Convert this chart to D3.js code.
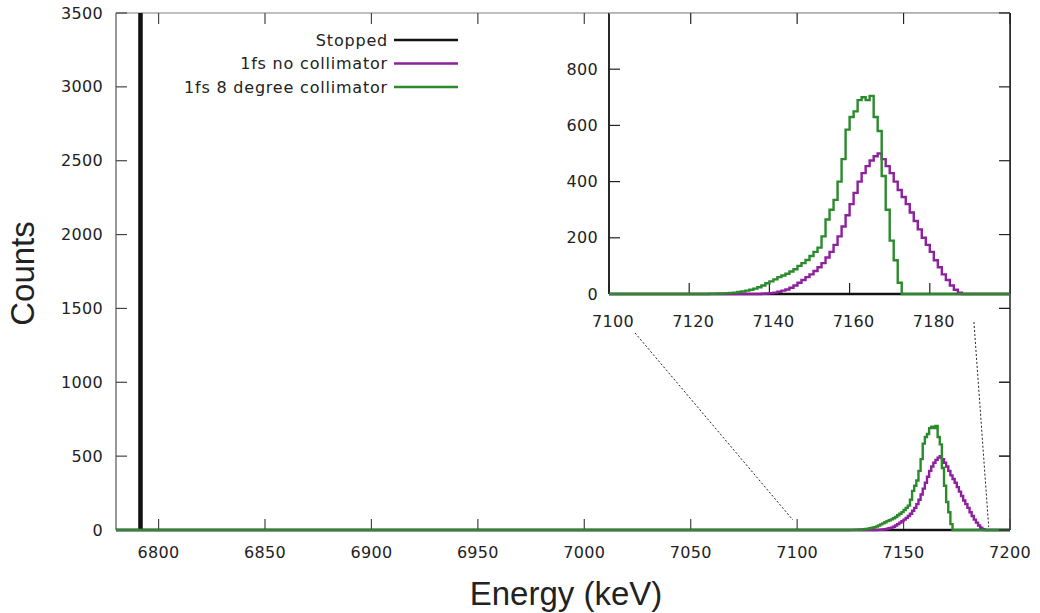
<!DOCTYPE html>
<html>
<head>
<meta charset="utf-8">
<script src="https://cdn.jsdelivr.net/npm/d3@7"></script>
<style>
  body { margin: 0; background: #fff; }
  svg text { font-family: "DejaVu Sans", sans-serif; fill: #222; }
</style>
</head>
<body>
<div id="chart"></div>
<script>
// series names, in legend order
var seriesNames = ["Stopped", "1fs no collimator", "1fs 8 degree collimator"];
var seriesColors = ["#111111", "#8e1f9e", "#2b8a2b"];

// stopped beam: one spike, runs off the top of the plot
var stoppedEnergy = [6791];
var stoppedCounts = [5200];

// 1fs no collimator, 1 keV bins
var noCollEnergy = [7138, 7139, 7140, 7141, 7142, 7143, 7144, 7145, 7146, 7147,
  7148, 7149, 7150, 7151, 7152, 7153, 7154, 7155, 7156, 7157,
  7158, 7159, 7160, 7161, 7162, 7163, 7164, 7165, 7166, 7167,
  7168, 7169, 7170, 7171, 7172, 7173, 7174, 7175, 7176, 7177,
  7178, 7179, 7180, 7181, 7182, 7183, 7184, 7185, 7186, 7187];
var noCollCounts = [1, 2, 3, 5, 8, 12, 16, 22, 30, 40,
  50, 60, 70, 82, 95, 110, 130, 150, 175, 205,
  240, 280, 320, 360, 400, 430, 455, 475, 490, 500,
  480, 455, 430, 400, 370, 345, 320, 290, 260, 230,
  200, 175, 150, 120, 95, 70, 50, 30, 15, 5];

// 1fs 8 degree collimator, 1 keV bins
var collEnergy = [7125, 7126, 7127, 7128, 7129, 7130, 7131, 7132, 7133, 7134,
  7135, 7136, 7137, 7138, 7139, 7140, 7141, 7142, 7143, 7144,
  7145, 7146, 7147, 7148, 7149, 7150, 7151, 7152, 7153, 7154,
  7155, 7156, 7157, 7158, 7159, 7160, 7161, 7162, 7163, 7164,
  7165, 7166, 7167, 7168, 7169, 7170, 7171, 7172];
var collCounts = [1, 1, 2, 2, 3, 4, 5, 7, 9, 12,
  15, 19, 24, 30, 38, 45, 52, 60, 66, 72,
  80, 88, 100, 110, 121, 135, 150, 165, 205, 265,
  300, 335, 400, 480, 585, 630, 650, 690, 700, 690,
  705, 630, 580, 420, 300, 190, 120, 40];

// axis ticks
var mainXTicks = [6800, 6850, 6900, 6950, 7000, 7050, 7100, 7150, 7200];
var mainYTicks = [0, 500, 1000, 1500, 2000, 2500, 3000, 3500];
var insetXTicks = [7100, 7120, 7140, 7160, 7180];
var insetYTicks = [0, 200, 400, 600, 800];

// dotted lines joining inset to main plot (energies)
var zoomLinks = [{inset: 7106.5, main: 7098, top: 39, bottom: 68},
                 {inset: 7191, main: 7190, top: 28, bottom: 20}];

var W = 1040, H = 613;
var svg = d3.select("#chart").append("svg")
  .attr("width", W).attr("height", H);

// main plot scales
var x = d3.scaleLinear().domain([6780, 7200]).range([116, 1010]);
var y = d3.scaleLinear().domain([0, 3500]).range([530, 13]);
// inset scales
var xi = d3.scaleLinear().domain([7100, 7200]).range([609, 1010]);
var yi = d3.scaleLinear().domain([0, 1000]).range([294, 13]);

function buildPoints(energies, counts) {
  var pts = [[6780, 0]];
  for (var i = 0; i < energies.length; i++) pts.push([energies[i], counts[i]]);
  pts.push([energies[energies.length - 1] + 1, 0]);
  pts.push([7200, 0]);
  return pts;
}
var series = [
  buildPoints(stoppedEnergy, stoppedCounts),
  buildPoints(noCollEnergy, noCollCounts),
  buildPoints(collEnergy, collCounts)
];

var defs = svg.append("defs");
defs.append("clipPath").attr("id", "mainClip").append("rect")
  .attr("x", x(6780)).attr("y", y(3500))
  .attr("width", x(7200) - x(6780)).attr("height", y(0) - y(3500) + 2);
defs.append("clipPath").attr("id", "insetClip").append("rect")
  .attr("x", xi(7100)).attr("y", yi(1000))
  .attr("width", xi(7200) - xi(7100)).attr("height", yi(0) - yi(1000) + 2);

// main frame (left/top greyish, right/bottom dark)
svg.append("line").attr("x1", x(6780)).attr("x2", x(6780)).attr("y1", y(0)).attr("y2", y(3500))
  .attr("stroke", "#777").attr("stroke-width", 1.5);
svg.append("line").attr("x1", x(6780)).attr("x2", x(7200)).attr("y1", y(3500)).attr("y2", y(3500))
  .attr("stroke", "#aaa").attr("stroke-width", 1.5);
svg.append("line").attr("x1", x(7200)).attr("x2", x(7200)).attr("y1", y(0)).attr("y2", y(3500))
  .attr("stroke", "#222").attr("stroke-width", 1.5);
svg.append("line").attr("x1", x(6780)).attr("x2", x(7200)).attr("y1", y(0)).attr("y2", y(0))
  .attr("stroke", "#222").attr("stroke-width", 1.5);

var tl = 11;
// main ticks, inward and mirrored
var tg = svg.append("g").attr("stroke", "#444").attr("stroke-width", 1.2);
mainYTicks.forEach(function(v) {
  tg.append("line").attr("x1", x(6780)).attr("x2", x(6780) + tl).attr("y1", y(v)).attr("y2", y(v));
  tg.append("line").attr("x1", x(7200)).attr("x2", x(7200) - tl).attr("y1", y(v)).attr("y2", y(v));
});
mainXTicks.forEach(function(v) {
  tg.append("line").attr("x1", x(v)).attr("x2", x(v)).attr("y1", y(0)).attr("y2", y(0) - tl);
  tg.append("line").attr("x1", x(v)).attr("x2", x(v)).attr("y1", y(3500)).attr("y2", y(3500) + tl);
});

// main tick labels
svg.append("g").selectAll("text").data(mainYTicks).enter().append("text")
  .attr("x", x(6780) - 13).attr("y", function(d) { return y(d); })
  .attr("dy", "0.35em").attr("text-anchor", "end")
  .style("font-size", "16px").style("letter-spacing", "0.3px").text(function(d) { return d; });
svg.append("g").selectAll("text").data(mainXTicks).enter().append("text")
  .attr("x", function(d) { return x(d); }).attr("y", y(0) + 28)
  .attr("text-anchor", "middle")
  .style("font-size", "16px").style("letter-spacing", "0.3px").text(function(d) { return d; });

// axis titles
svg.append("text").attr("transform", "translate(34," + ((y(0) + y(3500)) / 2 + 2) + ") rotate(-90)")
  .attr("text-anchor", "middle")
  .style("font-family", "'Liberation Sans', Arial, sans-serif").style("font-size", "33px")
  .text("Counts");
svg.append("text").attr("x", (x(6780) + x(7200)) / 2 + 3).attr("y", 605)
  .attr("text-anchor", "middle")
  .style("font-family", "'Liberation Sans', Arial, sans-serif").style("font-size", "33px")
  .text("Energy (keV)");

var line = d3.line().curve(d3.curveStepAfter)
  .x(function(d) { return x(d[0]); })
  .y(function(d) { return y(d[1]); });

svg.append("g").attr("clip-path", "url(#mainClip)")
  .selectAll("path").data(series).enter().append("path")
  .attr("d", line).attr("fill", "none")
  .attr("stroke", function(d, i) { return seriesColors[i]; })
  .attr("stroke-width", function(d, i) { return i == 0 ? 2.4 : 2.4; })
  .attr("stroke-linejoin", "miter");

// dotted zoom lines
svg.append("g").selectAll("line").data(zoomLinks).enter().append("line")
  .attr("x1", function(d) { return xi(d.inset); }).attr("y1", function(d) { return yi(0) + d.top; })
  .attr("x2", function(d) { return x(d.main); }).attr("y2", function(d) { return y(d.bottom); })
  .attr("stroke", "#222").attr("stroke-width", 1).attr("stroke-dasharray", "2,2");

// legend
var lg = svg.append("g");
seriesNames.forEach(function(name, i) {
  var ly = 40 + i * 23.5;
  lg.append("text").attr("x", 388).attr("y", ly).attr("dy", "0.35em")
    .attr("text-anchor", "end").style("font-size", "16px").style("letter-spacing", "0.8px").text(name);
  lg.append("line").attr("x1", 394).attr("x2", 458).attr("y1", ly).attr("y2", ly)
    .attr("stroke", seriesColors[i]).attr("stroke-width", 2.5);
});

// inset
var ig = svg.append("g");
ig.append("rect").attr("x", xi(7100)).attr("y", yi(1000))
  .attr("width", xi(7200) - xi(7100)).attr("height", yi(0) - yi(1000)).attr("fill", "#fff");

var linei = d3.line().curve(d3.curveStepAfter)
  .x(function(d) { return xi(d[0]); })
  .y(function(d) { return yi(d[1]); });

ig.append("line").attr("x1", xi(7100)).attr("x2", xi(7100)).attr("y1", yi(0)).attr("y2", yi(1000))
  .attr("stroke", "#111").attr("stroke-width", 1.8);
ig.append("line").attr("x1", xi(7200)).attr("x2", xi(7200)).attr("y1", yi(0)).attr("y2", yi(1000))
  .attr("stroke", "#222").attr("stroke-width", 1.5);
ig.append("line").attr("x1", xi(7100)).attr("x2", xi(7200)).attr("y1", yi(1000)).attr("y2", yi(1000))
  .attr("stroke", "#aaa").attr("stroke-width", 1.5);

var itg = ig.append("g").attr("stroke", "#222").attr("stroke-width", 1.2);
insetYTicks.forEach(function(v) {
  itg.append("line").attr("x1", xi(7100)).attr("x2", xi(7100) + tl).attr("y1", yi(v)).attr("y2", yi(v));
});
insetXTicks.forEach(function(v) {
  itg.append("line").attr("x1", xi(v)).attr("x2", xi(v)).attr("y1", yi(0)).attr("y2", yi(0) - tl);
});
// main mirror ticks that fall inside the inset
mainYTicks.forEach(function(v) {
  itg.append("line").attr("x1", x(7200)).attr("x2", x(7200) - tl).attr("y1", y(v)).attr("y2", y(v));
});
mainXTicks.forEach(function(v) {
  if (x(v) > xi(7100)) itg.append("line").attr("x1", x(v)).attr("x2", x(v)).attr("y1", y(3500)).attr("y2", y(3500) + tl);
});

ig.append("g").attr("clip-path", "url(#insetClip)")
  .selectAll("path").data(series).enter().append("path")
  .attr("d", linei).attr("fill", "none")
  .attr("stroke", function(d, i) { return seriesColors[i]; })
  .attr("stroke-width", 2.4);

ig.append("g").selectAll("text").data(insetYTicks).enter().append("text")
  .attr("x", xi(7100) - 11).attr("y", function(d) { return yi(d); })
  .attr("dy", "0.35em").attr("text-anchor", "end")
  .style("font-size", "16px").style("letter-spacing", "0.3px").text(function(d) { return d; });
ig.append("g").selectAll("text").data(insetXTicks).enter().append("text")
  .attr("x", function(d) { return xi(d) + 4; }).attr("y", yi(0) + 33)
  .attr("text-anchor", "middle")
  .style("font-size", "16px").style("letter-spacing", "0.3px").text(function(d) { return d; });
</script>
</body>
</html>
